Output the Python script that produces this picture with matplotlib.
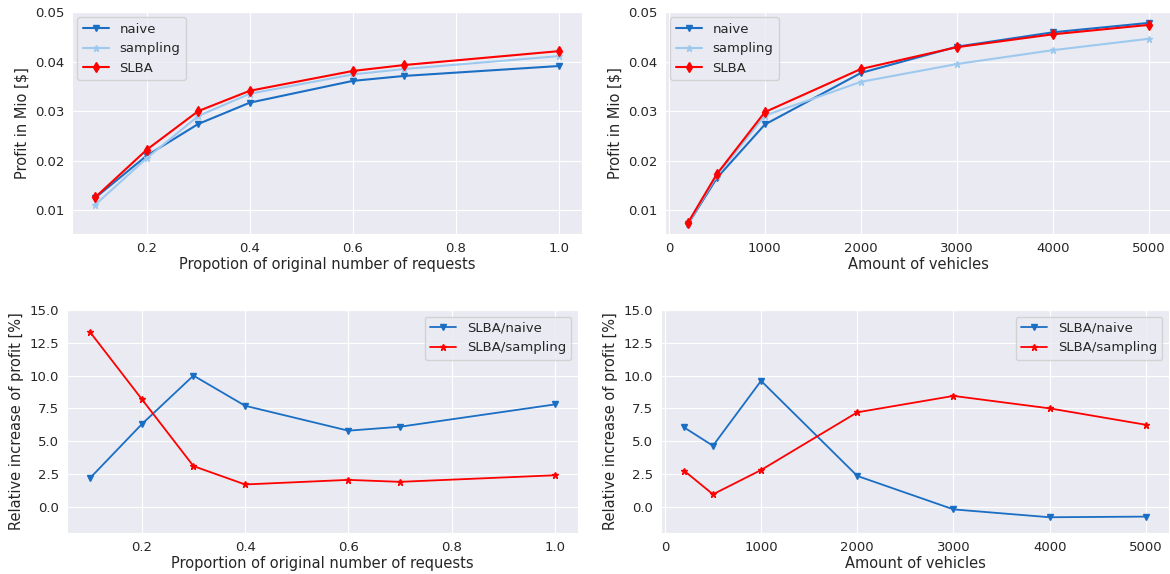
import matplotlib
matplotlib.use("Agg")
import matplotlib.pyplot as plt
import seaborn as sns

sns.set_style("darkgrid")
plt.rcParams['font.family'] = ['DejaVu Sans']

# data
prop = [0.1, 0.2, 0.3, 0.4, 0.6, 0.7, 1.0]
naive_prop = [0.0125, 0.0210, 0.0274, 0.0317, 0.0361, 0.0371, 0.0391]
sampling_prop = [0.0111, 0.0205, 0.0290, 0.0335, 0.0374, 0.0385, 0.0411]
slba_prop = [0.0126, 0.0222, 0.0300, 0.0341, 0.0381, 0.0393, 0.0421]

vehicles = [200, 500, 1000, 2000, 3000, 4000, 5000]
naive_veh = [0.0072, 0.0165, 0.0273, 0.0377, 0.0430, 0.0459, 0.0478]
sampling_veh = [0.0073, 0.0170, 0.0291, 0.0359, 0.0395, 0.0423, 0.0446]
slba_veh = [0.0075, 0.0173, 0.0298, 0.0385, 0.0429, 0.0455, 0.0474]

rel_naive_prop = [2.2, 6.3, 10.0, 7.7, 5.8, 6.1, 7.8]
rel_sampling_prop = [13.3, 8.2, 3.1, 1.7, 2.05, 1.9, 2.4]
rel_naive_veh = [6.05, 4.65, 9.6, 2.35, -0.2, -0.8, -0.75]
rel_sampling_veh = [2.75, 0.95, 2.8, 7.2, 8.45, 7.5, 6.25]

c_naive = "#1a6ec4"
c_samp = "#9dc9ef"
c_slba = "#ff0000"

W, H = 1170, 574
fig = plt.figure(figsize=(W / 100, H / 100), dpi=100)


def box(l, t, r, b):
    return [l / W, 1 - b / H, (r - l) / W, (b - t) / H]


fs_tick = 9.5
fs_lab = 10.5
fs_leg = 9.5

ax1 = fig.add_axes(box(72, 12, 582, 234))
ax2 = fig.add_axes(box(665, 12, 1172, 234))
ax3 = fig.add_axes(box(67, 310, 578, 533))
ax4 = fig.add_axes(box(661, 310, 1169, 533))

# top row: absolute profit
for ax, x, n, s, l, xl in [(ax1, prop, naive_prop, sampling_prop, slba_prop,
                            "Propotion of original number of requests"),
                           (ax2, vehicles, naive_veh, sampling_veh, slba_veh,
                            "Amount of vehicles")]:
    ax.plot(x, n, marker="v", color=c_naive, label="naive", ms=5, lw=1.5)
    ax.plot(x, s, marker="*", color=c_samp, label="sampling", ms=5, lw=1.5)
    ax.plot(x, l, marker="d", color=c_slba, label="SLBA", ms=5.5, lw=1.5)
    ax.set_ylim(0.0052, 0.05)
    ax.set_yticks([0.01, 0.02, 0.03, 0.04, 0.05])
    ax.set_xlabel(xl, fontsize=fs_lab, labelpad=2)
    ax.set_ylabel("Profit in Mio [$]", fontsize=fs_lab, labelpad=4)
    ax.tick_params(labelsize=fs_tick, pad=2)
    ax.legend(loc="upper left", fontsize=fs_leg, borderaxespad=0.4)

ax2.set_xticks([0, 1000, 2000, 3000, 4000, 5000])

# bottom row: relative increase
for ax, x, rn, rs, xl in [(ax3, prop, rel_naive_prop, rel_sampling_prop,
                           "Proportion of original number of requests"),
                          (ax4, vehicles, rel_naive_veh, rel_sampling_veh,
                           "Amount of vehicles")]:
    ax.plot(x, rn, marker="v", color=c_naive, label="SLBA/naive", ms=5, lw=1.3)
    ax.plot(x, rs, marker="*", color=c_slba, label="SLBA/sampling", ms=5, lw=1.3)
    ax.set_ylim(-2, 15)
    ax.set_yticks([0, 2.5, 5, 7.5, 10, 12.5, 15])
    ax.set_xlabel(xl, fontsize=fs_lab, labelpad=2)
    ax.set_ylabel("Relative increase of profit [%]", fontsize=fs_lab, labelpad=4)
    ax.tick_params(labelsize=fs_tick, pad=2)
    ax.legend(loc="upper right", fontsize=fs_leg)

ax4.set_xticks([0, 1000, 2000, 3000, 4000, 5000])

fig.savefig("out.png", dpi=100)
